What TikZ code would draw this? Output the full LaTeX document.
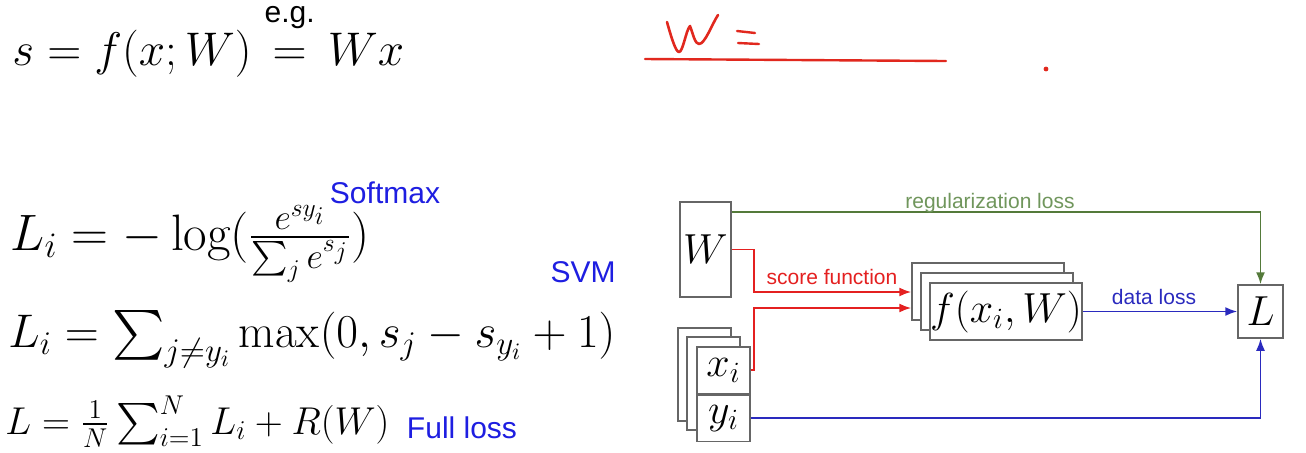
\RequirePackage{fix-cm}
\documentclass[tikz,border=0pt]{standalone}
\usepackage{amsmath}
\usepackage{fontspec}
\setsansfont{Liberation Sans}
\usetikzlibrary{arrows.meta, calc, positioning}
\definecolor{scorered}{RGB}{228,32,32}
\definecolor{reggreen}{RGB}{84,122,58}
\definecolor{regtext}{RGB}{112,150,92}
\definecolor{datablue}{RGB}{42,42,190}
\definecolor{noteblue}{RGB}{30,30,225}
\definecolor{inkred}{RGB}{225,40,30}

\begin{document}
\begin{tikzpicture}[x=0.5pt, y=-0.5pt,
    box/.style={draw=black!60, fill=white, line width=0.75pt, inner sep=0pt, font=\fontsize{21}{24}\selectfont},
    lbl/.style={font=\sffamily\fontsize{10.5}{12}\selectfont},
    wire/.style={line width=0.9pt, -{Latex[length=6pt,width=4.5pt]}},
    formula/.style={anchor=base west, inner sep=0pt, font=\fontsize{23}{28}\selectfont},
    note/.style={font=\sffamily\fontsize{15}{17}\selectfont, text=noteblue, inner sep=0pt}]

    \fill[white] (0,0) rectangle (1306,452);
    \useasboundingbox (0,0) rectangle (1306,452);

    % --- FORMULAS ---

    \node[formula, font=\fontsize{23.6}{28}\selectfont] (score) at (12,65)
        {$s = f(x;W) \overset{\raisebox{8pt}{\mbox{\sffamily\fontsize{15}{17}\selectfont e.g.}}}{=} Wx$};

    % Softmax
    \node[formula, font=\fontsize{25.6}{30}\selectfont] (softmax) at (10,250) {$L_i = -\log(\frac{e^{sy_i}}{\sum_j e^{s_j}})$};
    \node[note] (softmaxlbl) at (385,193) {Softmax};

    % SVM
    \node[formula, font=\fontsize{23.6}{28}\selectfont] (svm) at (8,347) {$L_i = \sum_{j\neq y_i} \max(0, s_j - s_{y_i} + 1)$};
    \node[note] (svmlbl) at (583,272) {SVM};

    % Full loss
    \node[formula, font=\fontsize{19.4}{23}\selectfont] (full) at (5,434) {$L = \frac{1}{N}\sum_{i=1}^N L_i + R(W)$};
    \node[note] (fulllbl) at (462,428) {Full loss};

    % --- HANDWRITING ---
    \draw[inkred, line width=1.3pt, line join=round, line cap=round]
        (667,22) .. controls (672,40) and (676,52) .. (679,52)
        .. controls (683,52) and (686,30) .. (690,26)
        .. controls (693,34) and (695,44) .. (699,44)
        .. controls (705,44) and (712,24) .. (718,15);
    \draw[inkred, line width=1.2pt, line cap=round] (737,31) -- (755,33) (738,43) -- (759,44);
    \draw[inkred, line width=1.2pt, line cap=round] (645,59) -- (946,61);
    \fill[inkred] (1046,69) circle (1.2pt);

    % --- DIAGRAM ---

    % W
    \node[box, minimum width=25.5pt, minimum height=47.5pt] (W) at (705.5,249.5) {$W$};

    % x_i, y_i stack
    \node[box, minimum width=26.5pt, minimum height=46.5pt] (xb1) at (704.5,374.5) {};
    \node[box, minimum width=26.5pt, minimum height=46.5pt] (xb2) at (713.5,383.5) {};
    \node[box, minimum width=26.5pt, minimum height=23.25pt] (xi) at (723.5,370.25) {$x_i$};
    \node[box, minimum width=26.5pt, minimum height=23.25pt, below=0pt of xi] (yi) {$y_i$};

    % f(x_i, W) stack
    \node[box, minimum width=76pt, minimum height=28.5pt] (fb1) at (988,291.5) {};
    \node[box, minimum width=76pt, minimum height=28.5pt] (fb2) at (997,301.5) {};
    \node[box, minimum width=76pt, minimum height=28.5pt] (f) at (1006,311.5) {$f(x_i,W)$};

    % L
    \node[box, minimum width=22.5pt, minimum height=26.5pt] (L) at (1260.5,311.5) {$L$};

    % --- WIRES ---
    \draw[wire, reggreen] ($(W.north east)+(0,11)$) -| (L.north);
    \node[lbl, text=regtext] (reglbl) at (990,203) {regularization loss};

    \draw[wire, scorered] (W.east) -- ++(22,0) |- ($(fb1.west)+(0,0.5)$);
    \draw[wire, scorered] (xi.east) -- ++(3,0) |- ($(fb1.west)+(0,16.5)$);
    \node[lbl, text=scorered] (scorelbl) at (832,277) {score function};

    \draw[wire, datablue] (f.east) -- (L.west);
    \node[lbl, text=datablue] (datalbl) at (1154,297) {data loss};

    \draw[wire, datablue] (yi.east) -| (L.south);

\end{tikzpicture}
\end{document}
